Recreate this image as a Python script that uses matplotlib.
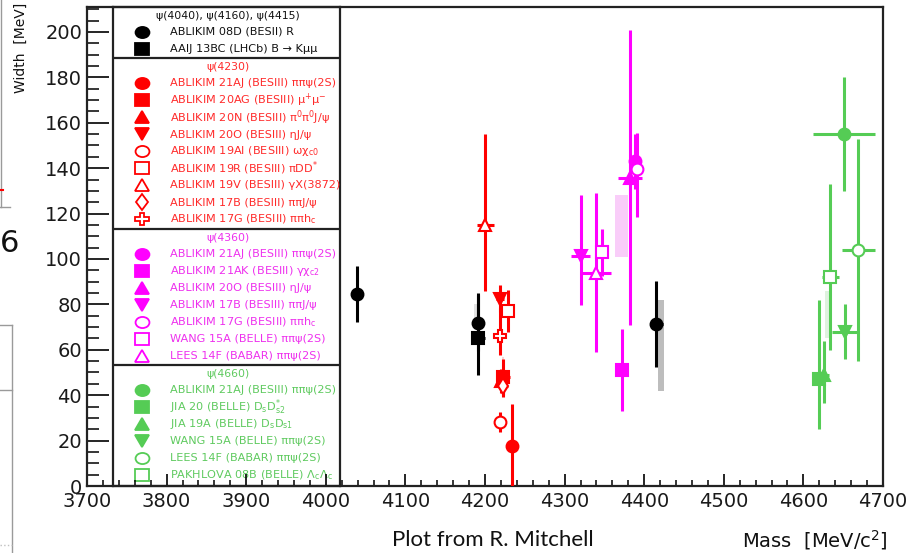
import matplotlib
matplotlib.use('Agg')
import matplotlib.pyplot as plt
from matplotlib.ticker import MultipleLocator
from matplotlib.patches import Rectangle
from matplotlib.lines import Line2D
from matplotlib.markers import MarkerStyle
from matplotlib.transforms import Affine2D

# ---------------- data ----------------
x_ticks = [3700, 3800, 3900, 4000, 4100, 4200, 4300, 4400, 4500, 4600, 4700]
y_ticks = [0, 20, 40, 60, 80, 100, 120, 140, 160, 180, 200]

# psi(4040), psi(4160), psi(4415)  (black)
blk_header = 'ψ(4040), ψ(4160), ψ(4415)'
blk_labels = ['ABLIKIM 08D (BESII) R', 'AAIJ 13BC (LHCb) B → Kμμ']
blk_mass = [4039.6, 4191.7, 4415.1, 4191.0]
blk_width = [84.5, 71.8, 71.5, 65.0]
blk_wlo = [12.3, 12.3, 19.0, 16.0]
blk_whi = [12.3, 12.3, 19.0, 20.0]
blk_merr = [4.3, 6.5, 7.9, 8.5]
blk_entry = [0, 0, 0, 1]

# psi(4230)  (red)
red_header = 'ψ(4230)'
red_labels = ['ABLIKIM 21AJ (BESIII) ππψ(2S)',
              'ABLIKIM 20AG (BESIII) μ$^{+}$μ$^{-}$',
              'ABLIKIM 20N (BESIII) π$^{0}$π$^{0}$J/ψ',
              'ABLIKIM 20O (BESIII) ηJ/ψ',
              'ABLIKIM 19AI (BESIII) ωχ$_{\\rm c0}$',
              'ABLIKIM 19R (BESIII) πDD$^{*}$',
              'ABLIKIM 19V (BESIII) γX(3872)',
              'ABLIKIM 17B (BESIII) ππJ/ψ',
              'ABLIKIM 17G (BESIII) ππh$_{\\rm c}$']
red_mass = [4234.4, 4222.5, 4220.4, 4218.7, 4218.5, 4228.6, 4200.6, 4222.0, 4218.4]
red_width = [17.6, 48.0, 46.2, 82.5, 28.2, 77.0, 115.0, 44.1, 66.0]
red_wlo = [19.5, 8.0, 5.2, 5.9, 4.2, 9.3, 29.0, 4.7, 8.3]
red_whi = [18.5, 8.0, 5.2, 5.9, 4.2, 9.3, 40.0, 4.7, 12.3]
red_merr = [3.4, 9.0, 3.3, 4.7, 4.3, 7.5, 10.5, 3.4, 5.0]

# psi(4360)  (magenta)
mag_header = 'ψ(4360)'
mag_labels = ['ABLIKIM 21AJ (BESIII) ππψ(2S)',
              'ABLIKIM 21AK (BESIII) γχ$_{\\rm c2}$',
              'ABLIKIM 20O (BESIII) ηJ/ψ',
              'ABLIKIM 17B (BESIII) ππJ/ψ',
              'ABLIKIM 17G (BESIII) ππh$_{\\rm c}$',
              'WANG 15A (BELLE) ππψ(2S)',
              'LEES 14F (BABAR) ππψ(2S)']
mag_mass = [4388.0, 4372.0, 4382.0, 4320.0, 4391.5, 4347.0, 4340.0]
mag_width = [143.0, 51.0, 135.8, 101.4, 139.5, 103.0, 94.0]
mag_wlo = [12.0, 18.0, 65.0, 21.5, 21.0, 10.3, 35.0]
mag_whi = [12.0, 18.0, 65.0, 27.0, 16.2, 10.3, 35.0]
mag_merr = [4.0, 3.0, 15.0, 12.5, 6.5, 6.7, 18.0]

# psi(4660)  (green)
grn_header = 'ψ(4660)'
grn_labels = ['ABLIKIM 21AJ (BESIII) ππψ(2S)',
              'JIA 20 (BELLE) D$_{\\rm s}$D$^{*}_{\\rm s2}$',
              'JIA 19A (BELLE) D$_{\\rm s}$D$_{\\rm s1}$',
              'WANG 15A (BELLE) ππψ(2S)',
              'LEES 14F (BABAR) ππψ(2S)',
              'PAKHLOVA 08B (BELLE) Λ$_{\\rm c}$Λ$_{\\rm c}$']
grn_mass = [4651.0, 4619.0, 4626.0, 4652.0, 4669.0, 4634.0]
grn_width = [155.0, 47.0, 49.0, 68.0, 104.0, 92.0]
grn_wlo = [25.0, 22.0, 12.5, 12.0, 49.0, 32.0]
grn_whi = [25.0, 35.0, 15.0, 12.0, 49.0, 41.0]
grn_merr = [39.5, 8.0, 6.0, 16.0, 21.0, 11.0]

# systematic bands
band_m0 = [4186, 4417, 4363, 4627, 4221]
band_m1 = [4191, 4425, 4380, 4632, 4224]
band_w0 = [73, 42, 101, 65, 52]
band_w1 = [80, 82, 128, 86, 57]

# ---------------- styles ----------------
BLACK, RED, MAG, GRN = '#000000', '#ff0000', '#ff00ff', '#55cc55'
band_colors = ['#e2e2e2', '#bdbdbd', '#f9cdf9', '#dff2df', '#f9d4d4']
blk_shapes, blk_fills = ['o', 's'], [True, True]
red_shapes = ['o', 's', '^', 'v', 'o', 's', '^', 'd', 'P']
red_fills = [True, True, True, True, False, False, False, False, False]
mag_shapes = ['o', 's', '^', 'v', 'o', 's', '^']
mag_fills = [True, True, True, True, False, False, False]
grn_shapes = ['o', 's', '^', 'v', 'o', 's']
grn_fills = [True, True, True, True, False, False]

W, H = 909, 553
fig = plt.figure(figsize=(W / 100, H / 100), dpi=100)
fig.patch.set_facecolor('white')

# legend panel (drawn under the main axes frame)
lg = fig.add_axes([113 / W, 1 - 486 / H, (340 - 113) / W, (486 - 7) / H], zorder=1)
lg.set_xlim(113, 340)
lg.set_ylim(486, 7)
lg.set_xticks([])
lg.set_yticks([])
for s in lg.spines.values():
    s.set_linewidth(1.6)
    s.set_color('#222222')

ax = fig.add_axes([87 / W, 1 - 486 / H, (883 - 87) / W, (486 - 7) / H], zorder=2)
ax.patch.set_alpha(0)
ax.set_xlim(3700, 4700)
ax.set_ylim(0, 211)
ax.set_xticks(x_ticks)
ax.set_yticks(y_ticks)
ax.xaxis.set_minor_locator(MultipleLocator(20))
ax.yaxis.set_minor_locator(MultipleLocator(5))
ax.tick_params(axis='x', which='major', direction='in', length=8.5, width=1.2,
               labelsize=14, pad=4.5, top=False, labelcolor='#1a1a1a')
ax.tick_params(axis='x', which='minor', direction='in', length=4.5, width=1.1, top=False)
ax.tick_params(axis='y', which='major', direction='in', length=16, width=1.2,
               labelsize=14, pad=3.5, right=False, labelcolor='#1a1a1a')
ax.tick_params(axis='y', which='minor', direction='in', length=8.5, width=1.1, right=False)
for s in ax.spines.values():
    s.set_linewidth(1.6)
    s.set_color('#222222')

# bands
for m0, m1, w0, w1, c in zip(band_m0, band_m1, band_w0, band_w1, band_colors):
    ax.add_patch(Rectangle((m0, w0), m1 - m0, w1 - w0, facecolor=c, edgecolor='none', zorder=1))


def draw_group(mass, width, wlo, whi, merr, shapes, fills, color, entries=None):
    if entries is None:
        entries = list(range(len(mass)))
    for m, w, lo, hi, me, e in zip(mass, width, wlo, whi, merr, entries):
        filled = fills[e]
        ax.errorbar(m, w, yerr=[[lo], [hi]], xerr=[[me], [me]], fmt=shapes[e],
                    color=color, ms=8.5, mfc=color if filled else 'white', mec=color,
                    mew=1.5, elinewidth=2.2, capsize=0, zorder=3, clip_on=True)


draw_group(blk_mass, blk_width, blk_wlo, blk_whi, blk_merr, blk_shapes, blk_fills, BLACK, blk_entry)
draw_group(red_mass, red_width, red_wlo, red_whi, red_merr, red_shapes, red_fills, RED)
draw_group(mag_mass, mag_width, mag_wlo, mag_whi, mag_merr, mag_shapes, mag_fills, MAG)
draw_group(grn_mass, grn_width, grn_wlo, grn_whi, grn_merr, grn_shapes, grn_fills, GRN)

# legend contents
groups = [
    (blk_header, blk_labels, blk_shapes, blk_fills, BLACK, '#111111'),
    (red_header, red_labels, red_shapes, red_fills, RED, '#ff2a2a'),
    (mag_header, mag_labels, mag_shapes, mag_fills, MAG, '#ee30ee'),
    (grn_header, grn_labels, grn_shapes, grn_fills, GRN, '#5fca5f'),
]
y = 7.0
for gi, (hdr, labels, shapes, fills, col, tcol) in enumerate(groups):
    if gi > 0:
        lg.axhline(y, color='#222222', lw=1.6)
    lg.text(228, y + 9, hdr, ha='center', va='center', fontsize=7.8, color=tcol)
    for i, (lab, shp, fil) in enumerate(zip(labels, shapes, fills)):
        yy = y + 25 + 17 * i
        mk = MarkerStyle(shp, transform=Affine2D().scale(1.25, 1.0))
        lg.plot(142, yy, marker=mk, ms=8, ls='none', mfc=col if fil else 'white',
                mec=col, mew=1.3)
        lg.text(170, yy, lab, ha='left', va='center', fontsize=8.1, color=tcol)
    y = y + 25 + 17 * (len(labels) - 1) + 9.5

# axis caption texts
fig.text(888 / W, 1 - 540 / H, 'Mass  [MeV/c$^{2}$]', ha='right', va='center',
         fontsize=14, color='#111111')
fig.text(493 / W, 1 - 540 / H, 'Plot from R. Mitchell', ha='center', va='center',
         fontsize=16, color='#111111', family='Lato')
fig.text(21 / W, 1 - 3 / H, 'Width  [MeV]', ha='center', va='top', rotation=90,
         fontsize=10, color='#111111')

# screenshot remnants on the left edge
gray = '#9a9a9a'
fig.add_artist(Line2D([1 / W, 1 / W], [1, 1 - 207 / H], color=gray, lw=1, transform=fig.transFigure))
fig.add_artist(Line2D([0, 10 / W], [1 - 207 / H, 1 - 207 / H], color=gray, lw=1, transform=fig.transFigure))
fig.add_artist(Line2D([0, 3 / W], [1 - 190 / H, 1 - 190 / H], color='red', lw=1.5, transform=fig.transFigure))
fig.text(0 / W, 1 - 244 / H, '6', ha='left', va='center', fontsize=22, color='#111111')
fig.add_artist(Line2D([0, 12 / W], [1 - 325 / H, 1 - 325 / H], color=gray, lw=1, transform=fig.transFigure))
fig.add_artist(Line2D([12 / W, 12 / W], [1 - 325 / H, 0], color=gray, lw=1, transform=fig.transFigure))
fig.add_artist(Line2D([0, 12 / W], [1 - 390 / H, 1 - 390 / H], color=gray, lw=1, transform=fig.transFigure))
fig.add_artist(Line2D([0, 12 / W], [1 - 545 / H, 1 - 545 / H], color='#c0c0c0', lw=1,
                      ls=':', transform=fig.transFigure))

fig.savefig('out.png', dpi=100)
